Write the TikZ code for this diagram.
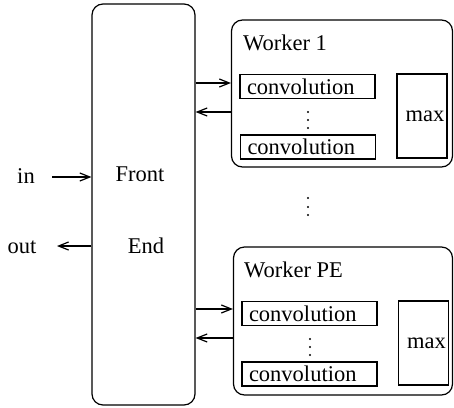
\documentclass[tikz,border=0pt]{standalone}
\usepackage{fontspec}
\setmainfont{Liberation Serif}
\usetikzlibrary{arrows.meta,positioning}

\tikzset{
  block/.style={draw, line width=1.2pt, rounded corners=11pt, inner sep=0pt},
  conv/.style={draw, line width=1.2pt, inner xsep=7pt, inner ysep=0pt,
    text width=121pt, align=left, minimum height=24pt, font=\fontsize{22.5}{24}\selectfont},
  maxbox/.style={draw, line width=1.2pt, inner sep=0pt, minimum width=50pt,
    minimum height=84pt, font=\fontsize{22.5}{24}\selectfont},
  lbl/.style={inner sep=0pt, anchor=base, font=\fontsize{22.5}{24}\selectfont},
  arr/.style={line width=1.2pt, -{Straight Barb[length=10pt,width=8pt]}},
}

\begin{document}
\begin{tikzpicture}[x=1pt,y=-1pt]
    \useasboundingbox (0,0) rectangle (454,407);
    % front end
    \node[block, minimum width=103pt, minimum height=401pt] (fe) at (143.5,204.5) {};
    \node[lbl] (front) at (140,181) {Front};
    \node[lbl] (end) at (146,253) {End};
    \node[lbl] (in) at (26,183) {in};
    \node[lbl] (out) at (22,253) {out};
    \coordinate (inS) at (52,177);
    \coordinate (outE) at (57,246);
    \draw[arr] (inS) -- (inS -| fe.west);
    \draw[arr] (outE -| fe.west) -- (outE);

    % worker 1
    \node[block, minimum width=221pt, minimum height=147pt] (w1) at (342,93.5) {};
    \node[lbl, anchor=base west] (w1t) at (243,50) {Worker 1};
    \node[conv] (c11) at (307.5,86.5) {convolution};
    \node[conv] (c12) at (308,147) {convolution};
    \node[maxbox] (m1) at (422,116) {\hspace{6pt}max};
    \fill (308,112) circle (1.1) (308,120) circle (1.1) (308,128) circle (1.1);
    \coordinate (a1) at (0,83);
    \coordinate (b1) at (0,112);
    \draw[arr] (a1 -| fe.east) -- (a1 -| w1.west);
    \draw[arr] (b1 -| w1.west) -- (b1 -| fe.east);

    % between the workers
    \fill (308,198) circle (1.1) (308,207) circle (1.1) (308,215) circle (1.1);

    % worker PE
    \node[block, minimum width=219pt, minimum height=148pt] (wp) at (343,321) {};
    \node[lbl, anchor=base west] (wpt) at (244,277) {Worker PE};
    \node[conv] (cp1) at (309.5,313.5) {convolution};
    \node[conv] (cp2) at (309.5,374) {convolution};
    \node[maxbox] (mp) at (423.5,343) {\hspace{6pt}max};
    \fill (310,339) circle (1.1) (310,347) circle (1.1) (310,355) circle (1.1);
    \coordinate (ap) at (0,309);
    \coordinate (bp) at (0,338);
    \draw[arr] (ap -| fe.east) -- (ap -| wp.west);
    \draw[arr] (bp -| wp.west) -- (bp -| fe.east);
\end{tikzpicture}
\end{document}
